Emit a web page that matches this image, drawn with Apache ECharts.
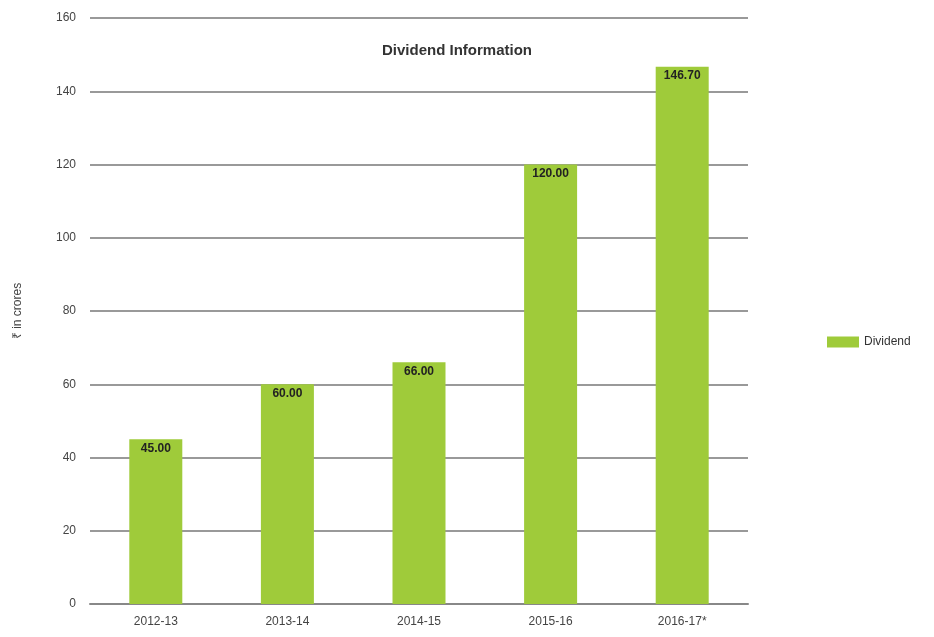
<!DOCTYPE html>
<html><head><meta charset="utf-8">
<script src="https://cdn.jsdelivr.net/npm/echarts@6/dist/echarts.min.js"></script>
<style>html,body{margin:0;padding:0;background:#fff}#c{width:934px;height:637px}</style>
</head><body><div id="c"></div>
<script>
const categories = ['2012-13','2013-14','2014-15','2015-16','2016-17*'];
const dividend = [45.00, 60.00, 66.00, 120.00, 146.70];
const yTicks = {min:0, max:160, interval:20};

const chart = echarts.init(document.getElementById('c'));
chart.setOption({
  animation:false,
  backgroundColor:'#fff',
  title:{text:'Dividend Information', left:452, top:38, textAlign:'center',
    textStyle:{fontFamily:'Liberation Sans, Arial', fontSize:15, fontWeight:'bold', color:'#333'}},
  legend:{data:['Dividend'], orient:'vertical', left:822, top:331, itemWidth:32, itemHeight:11,
    textStyle:{fontFamily:'Liberation Sans, Arial', fontSize:12, color:'#333'}, icon:'rect'},
  grid:{left:90, right:186, top:18, bottom:33},
  xAxis:{type:'category', data:categories,
    axisLine:{lineStyle:{color:'#888', width:2}}, axisTick:{show:false},
    axisLabel:{fontFamily:'Liberation Sans, Arial', fontSize:12, color:'#444', margin:12}},
  yAxis:{type:'value', min:yTicks.min, max:yTicks.max, interval:yTicks.interval,
    name:'₹ in crores', nameLocation:'middle', nameGap:66, nameRotate:90,
    nameTextStyle:{fontFamily:'Liberation Sans, Arial', fontSize:12, color:'#444'},
    axisLine:{show:false}, axisTick:{show:false},
    axisLabel:{fontFamily:'Liberation Sans, Arial', fontSize:12, color:'#444', margin:14},
    splitLine:{lineStyle:{color:'#999', width:2}}},
  series:[{name:'Dividend', type:'bar', data:dividend, barWidth:53,
    itemStyle:{color:'#9fcb3a'},
    label:{show:true, position:'insideTop', distance:3,
      formatter:p=>p.value.toFixed(2),
      fontFamily:'Liberation Sans, Arial', fontSize:12, fontWeight:'bold', color:'#222'}}]
});
</script></body></html>
